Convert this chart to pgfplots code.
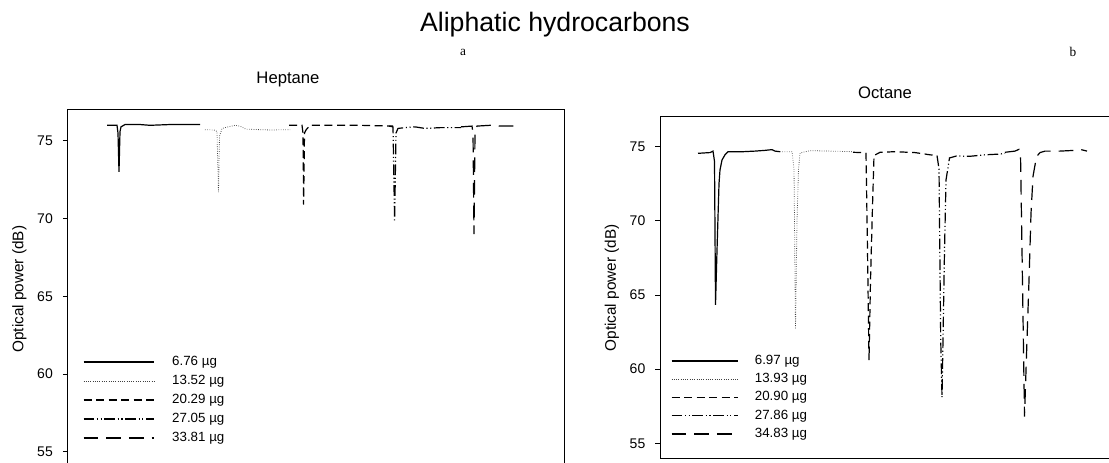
\documentclass[border=0pt]{standalone}
\usepackage{pgfplots}
\pgfplotsset{compat=1.18}
\usepackage{fontspec}
\setmainfont{Liberation Sans}
\newfontfamily\tnr{Liberation Serif}

\pgfplotsset{
  myaxis/.style={
    scale only axis,
    axis line style={line width=0.75pt},
    xtick=\empty,
    ytick={55,60,65,70,75},
    ytick pos=left,
    tick align=outside,
    major tick length=3.5pt,
    tick style={line width=0.6pt,black},
    yticklabel style={font=\fontsize{10.5}{12}\selectfont, xshift=-4pt},
    /pgf/number format/assume math mode=true,
    ylabel={Optical power (dB)},
    ylabel style={font=\fontsize{11.5}{13}\selectfont, at={(axis description cs:0,0.5)}, anchor=center, yshift=36pt},
    legend cell align=left,
  },
  s1/.style={black, line width=0.9pt, solid},
  s2/.style={black!75, line width=0.6pt, dash pattern=on 0.5pt off 1.2pt},
  s3/.style={black, line width=0.9pt, dash pattern=on 6pt off 3.4pt},
  s4/.style={black, line width=0.9pt, dash pattern=on 8pt off 2pt on 0.8pt off 2pt on 0.8pt off 2pt},
  s5/.style={black, line width=0.9pt, dash pattern=on 11pt off 6pt},
}

\begin{document}
\begin{tikzpicture}
\useasboundingbox (0,0) rectangle (831.75pt,347.25pt);
\clip (0,0) rectangle (831.75pt,347.25pt);

\node[font=\fontsize{20}{24}\selectfont] at (416.25pt,328.5pt) {Aliphatic hydrocarbons};
\node[font=\tnr\fontsize{10}{12}\selectfont] at (347.25pt,308.25pt) {a};
\node[font=\tnr\fontsize{10}{12}\selectfont] at (804.75pt,308.25pt) {b};
\node[font=\fontsize{12.5}{15}\selectfont] at (216pt,287.25pt) {Heptane};
\node[font=\fontsize{12.5}{15}\selectfont] at (663.75pt,277.5pt) {Octane};

% ---------------- Heptane ----------------
\begin{axis}[myaxis,
  at={(50.625pt,-4.5pt)}, anchor=south west,
  width=372.375pt, height=269.775pt,
  xmin=67.5, xmax=564, ymin=53.9, ymax=77.03,
  legend image code/.code={\draw[#1] (0pt,0pt) -- (53pt,0pt);},
  legend style={draw=none, fill=none, inner sep=0pt, outer sep=0pt,
    at={(axis cs:83,61.18)}, anchor=north west,
    font=\fontsize{10}{12}\selectfont, row sep=4.95pt, column sep=13pt,
    nodes={inner sep=0pt, text height=7.2pt, text depth=2.1pt}},
]
\addplot[s1] coordinates {(107,76.0) (117,76.0) (118,75.5) (119,73.0) (120,75.6) (121,75.9) (125,76.05) (140,76.05) (150,76.0) (170,76.05) (200,76.05)};
\addlegendentry{6.76 µg}
\addplot[s2] coordinates {(205,75.72) (214,75.7) (217,75.6) (218.5,71.7) (219.5,75.3) (222,75.8) (228,75.9) (235,76.0) (240,75.95) (246,75.75) (270,75.7) (290,75.72)};
\addlegendentry{13.52 µg}
\addplot[s3] coordinates {(289,76.0) (302,76.0) (303,75.5) (303.6,70.9) (304.5,75.5) (306,75.7) (310,76.0) (330,76.0) (360,76.0) (393,75.95)};
\addlegendentry{20.29 µg}
\addplot[s4] coordinates {(389,75.95) (393,75.9) (394.6,69.8) (396,75.5) (398,75.8) (405,75.85) (415,75.9) (425,75.8) (440,75.85) (461,75.85)};
\addlegendentry{27.05 µg}
\addplot[s5] coordinates {(461,75.9) (472,75.95) (473,75.5) (474,69.0) (475,75.5) (477,75.95) (490,76.0) (500,75.95) (518,75.95)};
\addlegendentry{33.81 µg}
\end{axis}

% ---------------- Octane ----------------
\begin{axis}[myaxis,
  at={(495pt,3pt)}, anchor=south west,
  width=338.25pt, height=256.725pt,
  xmin=660, xmax=1111, ymin=53.94, ymax=77.02,
  legend image code/.code={\draw[#1] (0pt,0pt) -- (50pt,0pt);},
  legend style={draw=none, fill=none, inner sep=0pt, outer sep=0pt,
    at={(axis cs:671,60.97)}, anchor=north west,
    font=\fontsize{10}{12}\selectfont, row sep=4.4pt, column sep=12pt,
    nodes={inner sep=0pt, text height=7.2pt, text depth=2.1pt}},
]
\addplot[s1] coordinates {(698,74.55) (710,74.6) (713,74.7) (714.5,74.0) (715.5,64.33) (717,68) (719,72.5) (720,73.43) (722,74.1) (725,74.45) (728,74.66) (740,74.65) (755,74.7) (765,74.75) (772,74.8) (775,74.7) (780,74.66)};
\addlegendentry{6.97 µg}
\addplot[s2] coordinates {(780,74.66) (792,74.66) (794,73.5) (795.5,62.7) (797,70) (798.5,73.5) (800,74.57) (810,74.73) (830,74.7) (853,74.66)};
\addlegendentry{13.93 µg}
\addplot[s3] coordinates {(853,74.62) (862,74.6) (866,74.55) (867.5,68) (869,60.6) (870.5,66) (872.5,71) (874,74.4) (880,74.62) (895,74.66) (915,74.6) (930,74.45) (937,74.4)};
\addlegendentry{20.90 µg}
\addplot[s4] coordinates {(937,74.4) (939,73.5) (940.7,62) (942,58.1) (943,62) (944.5,68) (946,72.75) (949.5,74.24) (956.5,74.37) (970,74.35) (985,74.45) (1000,74.5) (1005,74.55)};
\addlegendentry{27.86 µg}
\addplot[s5] coordinates {(1005,74.62) (1015,74.7) (1019,74.82) (1020.5,74.5) (1022,68) (1024.5,56.8) (1027,62) (1029,66) (1031,70.5) (1033,73) (1036.5,74.33) (1040,74.6) (1045,74.7) (1060,74.7) (1075,74.75) (1080,74.82) (1087,74.7)};
\addlegendentry{34.83 µg}
\end{axis}
\end{tikzpicture}
\end{document}
